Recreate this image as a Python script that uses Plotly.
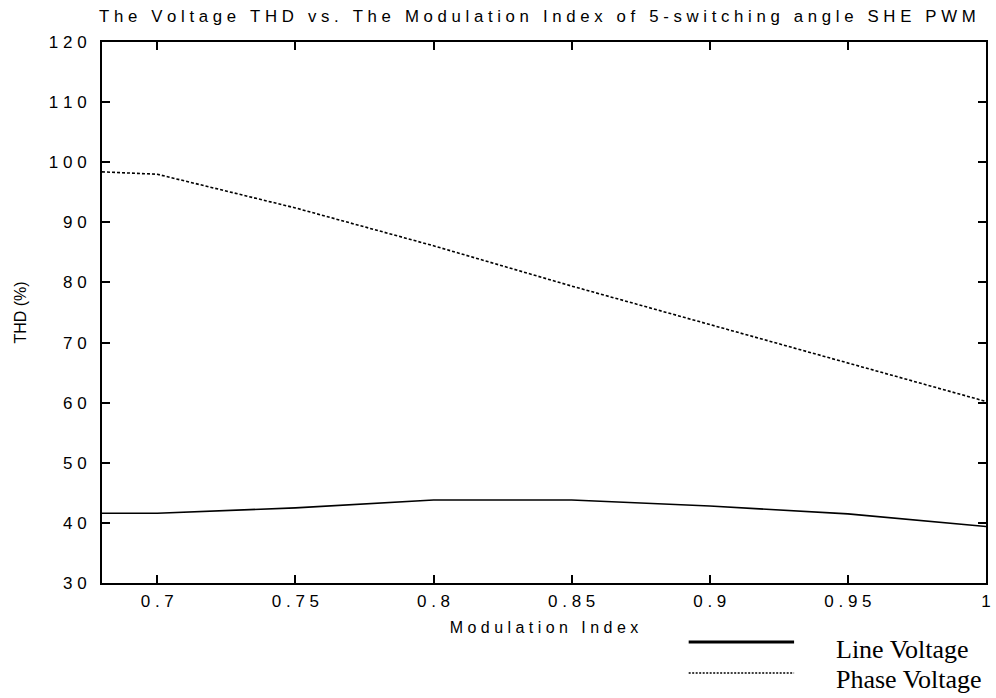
import plotly.graph_objects as go

# Modulation index samples and the resulting voltage THD (%)
mod_index = [0.68, 0.70, 0.75, 0.80, 0.85, 0.90, 0.95, 1.00]
line_thd = [41.6, 41.6, 42.5, 43.8, 43.8, 42.8, 41.5, 39.4]
phase_thd = [98.4, 98.0, 92.4, 86.1, 79.4, 73.0, 66.7, 60.2]

x_ticks = [0.7, 0.75, 0.8, 0.85, 0.9, 0.95, 1]
x_tick_labels = ["0.7", "0.75", "0.8", "0.85", "0.9", "0.95", "1"]
y_ticks = [30, 40, 50, 60, 70, 80, 90, 100, 110, 120]
y_tick_labels = [str(v) for v in y_ticks]

title_text = "The Voltage THD vs. The Modulation Index of 5-switching angle SHE PWM"
x_title = "Modulation Index"
y_title = "THD (%)"
legend_names = ["Line Voltage", "Phase Voltage"]

W, H = 996, 698
L, R, T, B = 102, 991, 42, 583


def spaced(s):
    """Imitate wide letter tracking: a gap between every character."""
    words = s.split(" ")
    return "\u00a0\u00a0\u00a0".join("\u00a0".join(w) for w in words)


def px_x(p):
    return (p - L) / (R - L)


def px_y(p):
    return (B - p) / (B - T)


sans = "Liberation Sans, Arial, sans-serif"
serif = "Liberation Serif, Times New Roman, serif"

fig = go.Figure()
fig.add_trace(go.Scatter(
    x=mod_index, y=line_thd, mode="lines", name=legend_names[0],
    line=dict(color="black", width=1.6),
    showlegend=False,
))
fig.add_trace(go.Scatter(
    x=mod_index, y=phase_thd, mode="lines", name=legend_names[1],
    line=dict(color="black", width=1.6, dash="3px,2px"),
    showlegend=False,
))

axis_common = dict(
    showgrid=False, zeroline=False, showline=True, linecolor="black", linewidth=2,
    mirror="ticks", ticks="inside", tickcolor="black", tickwidth=2, ticklen=8,
    tickfont=dict(family=sans, size=17, color="black"),
)

fig.update_xaxes(
    range=[0.68, 1.0], tickvals=x_ticks,
    ticktext=[spaced(t) for t in x_tick_labels],
    ticklabelstandoff=2,
    title=dict(text=spaced(x_title), font=dict(family=sans, size=16, color="black"), standoff=11),
    **axis_common,
)
fig.update_yaxes(
    range=[30, 120], tickvals=y_ticks,
    ticktext=[spaced(t) for t in y_tick_labels],
    ticklabelstandoff=10,
    title=dict(text=y_title, font=dict(family=sans, size=16, color="black"), standoff=18),
    **axis_common,
)

# Hand-placed legend below the plot area
legend_shapes = [
    dict(type="line", xref="paper", yref="paper",
         x0=px_x(692), x1=px_x(798), y0=px_y(642), y1=px_y(642),
         line=dict(color="black", width=3.2)),
    dict(type="line", xref="paper", yref="paper",
         x0=px_x(692), x1=px_x(798), y0=px_y(673), y1=px_y(673),
         line=dict(color="black", width=1.5, dash="2px,1.5px")),
]
annotations = [
    dict(text=spaced(title_text), xref="paper", yref="paper",
         x=px_x(540), y=px_y(16), xanchor="center", yanchor="middle",
         showarrow=False, font=dict(family=sans, size=16.8, color="black")),
    dict(text=legend_names[0], xref="paper", yref="paper",
         x=px_x(838), y=px_y(649), xanchor="left", yanchor="middle",
         showarrow=False, font=dict(family=serif, size=26, color="black")),
    dict(text=legend_names[1], xref="paper", yref="paper",
         x=px_x(838), y=px_y(679), xanchor="left", yanchor="middle",
         showarrow=False, font=dict(family=serif, size=26, color="black")),
]

fig.update_layout(
    width=W, height=H,
    margin=dict(l=L, r=W - R, t=T, b=H - B),
    paper_bgcolor="white", plot_bgcolor="white",
    shapes=legend_shapes, annotations=annotations,
    showlegend=False,
)

fig.write_html("out.html")
